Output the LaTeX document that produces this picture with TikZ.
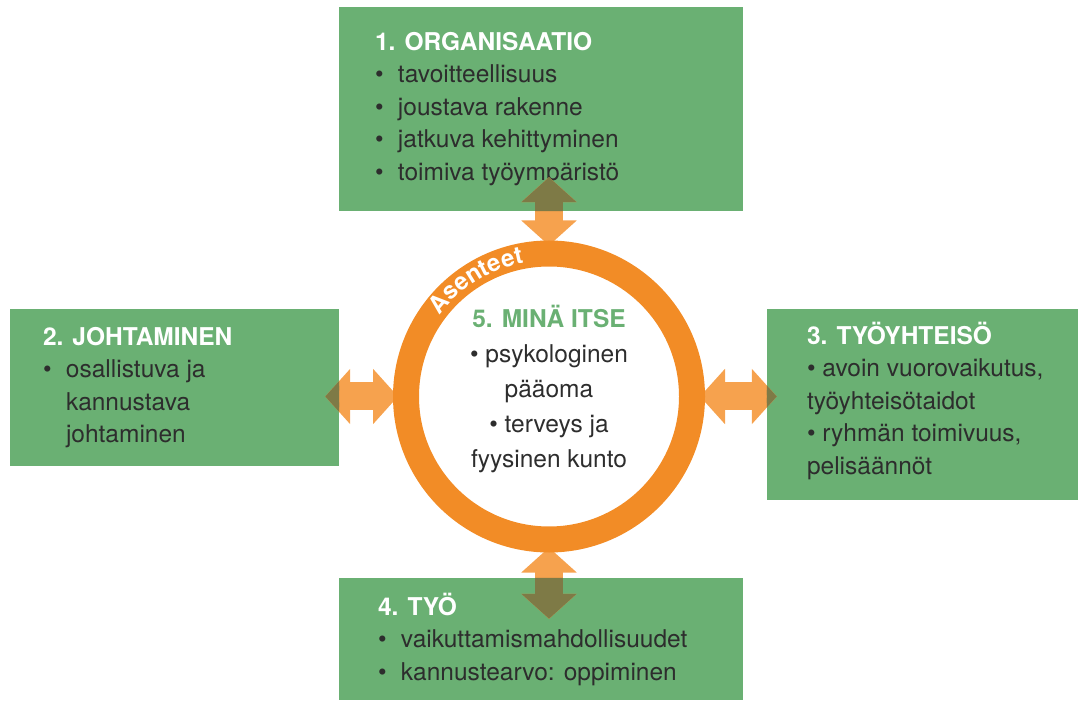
\documentclass[tikz,border=0pt]{standalone}
\usepackage{fontspec}
\setmainfont{TeX Gyre Heros}
\usetikzlibrary{positioning,calc,arrows.meta,decorations.text}

\definecolor{vihrea}{RGB}{106,176,115}
\definecolor{oranssi}{RGB}{242,140,38}
\definecolor{vaaleaoranssi}{RGB}{246,162,78}
\definecolor{oliivi}{RGB}{126,122,70}
\definecolor{teksti}{RGB}{45,45,45}

\pgfdeclarelayer{tausta}
\pgfdeclarelayer{nuolet}
\pgfsetlayers{tausta,nuolet,main}

% luettelomerkki ja otsikko laatikoissa
\newcommand{\pallo}{\makebox[23pt][l]{\textbullet}}
\newcommand{\otsikko}[1]{{\color{white}\bfseries #1}}

\tikzset{
  laatikko/.style={fill=vihrea, inner sep=0pt},
  sisalto/.style={align=left, inner sep=0pt, text=teksti,
    font=\fontsize{24.5}{32.5}\selectfont},
  rengas/.style={circle, draw=oranssi, line width=26pt, minimum size=286pt, inner sep=0pt},
  nuoli/.style={line width=28pt,
    {Triangle[width=54pt,length=25pt]}-{Triangle[width=54pt,length=25pt]}}
}

% neljä kaksoisnuolta renkaasta laatikoihin
\newcommand{\nuolet}{%
  \draw[nuoli] ([yshift=-5pt]ympyra.north) -- ($(ympyra.north |- b1.south)+(0,34)$);
  \draw[nuoli] ([xshift=5pt]ympyra.west) -- ($(b2.east |- ympyra.west)+(-14,0)$);
  \draw[nuoli] ([xshift=-5pt]ympyra.east) -- ($(b3.west |- ympyra.east)+(10,0)$);
  \draw[nuoli] ([yshift=5pt]ympyra.south) -- ($(ympyra.south |- b4.north)+(0,-41)$);
}

\begin{document}
\begin{tikzpicture}[x=1pt,y=1pt]
\useasboundingbox (0,0) rectangle (1078,702);

\begin{pgfonlayer}{tausta}
\node[laatikko, minimum width=404pt, minimum height=204pt] (b1) at (541,593) {};
\node[laatikko, minimum width=329pt, minimum height=157pt] (b2) at (174.5,314.5) {};
\node[laatikko, minimum width=311pt, minimum height=191pt] (b3) at (922.5,297.5) {};
\node[laatikko, minimum width=404pt, minimum height=122pt] (b4) at (541,63) {};

\node[sisalto, right=36pt of b1.west] (t1) {\otsikko{1. ORGANISAATIO}\\
  \pallo tavoitteellisuus\\
  \pallo joustava rakenne\\
  \pallo jatkuva kehittyminen\\
  \pallo toimiva työympäristö};
\node[sisalto, right=33pt of b2.west] (t2) {\otsikko{2. JOHTAMINEN}\\
  \pallo osallistuva ja\\
  \hspace*{23pt}kannustava\\
  \hspace*{23pt}johtaminen};
\node[sisalto, right=40pt of b3.west, yshift=4pt] (t3) {\otsikko{3. TYÖYHTEISÖ}\\
  \textbullet{} avoin vuorovaikutus,\\
  työyhteisötaidot\\
  \textbullet{} ryhmän toimivuus,\\
  pelisäännöt};
\node[sisalto, right=39pt of b4.west] (t4) {\otsikko{4. TYÖ}\\
  \pallo vaikuttamismahdollisuudet\\
  \pallo kannustearvo: oppiminen};
\end{pgfonlayer}

\node[rengas] (ympyra) at (549,305.5) {};

\begin{pgfonlayer}{nuolet}
\begin{scope}[color=vaaleaoranssi]
  \nuolet
\end{scope}
\begin{scope}
  \clip (b1.south west) rectangle (b1.north east)
        (b2.south west) rectangle (b2.north east)
        (b3.south west) rectangle (b3.north east)
        (b4.south west) rectangle (b4.north east);
  \begin{scope}[color=oliivi]
    \nuolet
  \end{scope}
\end{scope}
\end{pgfonlayer}

\node[align=center, inner sep=0pt, text=teksti,
  font=\fontsize{24.5}{35}\selectfont] (mina) at ([yshift=8pt]ympyra.center)
  {{\color{vihrea}\bfseries 5. MINÄ ITSE}\\
   \textbullet{} psykologinen\\
   pääoma\\
   \textbullet{} terveys ja\\
   fyysinen kunto};

\path[decorate, decoration={text along path, text align=center, text color=white,
  text={|\fontsize{24}{24}\selectfont\bfseries|Asenteet}}]
  ($(ympyra.center)+(152:136)$) arc[start angle=152, end angle=92, radius=136pt];
\end{tikzpicture}
\end{document}
